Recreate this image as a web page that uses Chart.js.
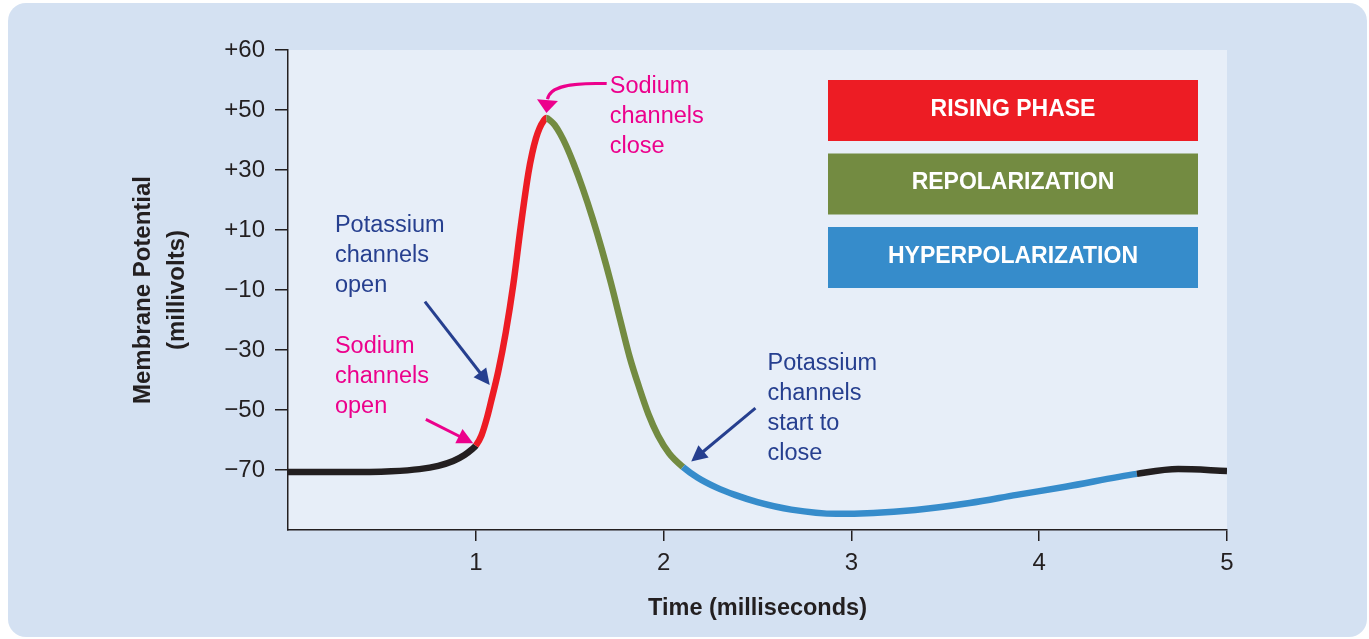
<!DOCTYPE html>
<html>
<head>
<meta charset="utf-8">
<title>Action potential</title>
<script src="https://cdn.jsdelivr.net/npm/chart.js@4.4.1/dist/chart.umd.min.js"></script>
<style>
  html, body { margin: 0; padding: 0; background: #ffffff; }
  #panel { position: absolute; left: 8px; top: 3px; width: 1359px; height: 634px; border-radius: 18px; background: #d4e1f2; }
  #chart { position: absolute; left: 0; top: 0; }
</style>
</head>
<body>
<div id="panel"></div>
<canvas id="chart" width="1369" height="639"></canvas>
<script>
// membrane potential trace
const timeMs = [0, 0.3, 0.55, 0.7, 0.8, 0.88, 0.94, 0.98, 1.0,
  1.03, 1.06, 1.08, 1.12, 1.16, 1.2, 1.24, 1.28, 1.3, 1.32, 1.34, 1.36, 1.376,
  1.4, 1.42, 1.45, 1.48, 1.52, 1.57, 1.62, 1.67, 1.72, 1.77, 1.82, 1.87, 1.92, 1.97, 2.03, 2.103,
  2.18, 2.28, 2.38, 2.5, 2.68, 2.92, 3.34, 3.63, 3.88, 4.14, 4.52, 4.74, 5.0];
const potentialMv = [-70.7, -70.7, -70.4, -69.7, -68.6, -67, -65, -63.1, -61.9,
  -58.5, -52.5, -47.5, -37, -24, -8, 11.5, 29, 35.5, 40.5, 44, 46.3, 47.3,
  46.3, 45, 42, 38.25, 32.25, 23.75, 14.25, 3.75, -7.75, -20.25, -32.5, -42.5, -51.5, -58.5, -64.5, -69,
  -72.5, -75.8, -78.3, -80.7, -83.2, -84.6, -83.3, -81, -78.3, -75.6, -71.3, -69.7, -70.3];

// where each phase begins: rising, repolarization, hyperpolarization, back to resting
const phaseStarts = [1.0, 1.376, 2.103, 4.52];
const phaseNames = ['RISING PHASE', 'REPOLARIZATION', 'HYPERPOLARIZATION'];
const phaseColors = ['#ed1c24', '#738b41', '#368ccb'];

const xTickValues = [1, 2, 3, 4, 5];
const yTickValues = [-70, -50, -30, -10, 10, 30, 50, 70];
const yTickLabels = ['\u221270', '\u221250', '\u221230', '\u221210', '+10', '+30', '+50', '+60'];

const FONT = '"Liberation Sans", Arial, Helvetica, sans-serif';
const INK = '#231f20';
const REST = '#231f20';
const MAGENTA = '#ec008c';
const NAVY = '#263f8f';

// callouts, anchored in (ms, mV)
const notes = [
  { lines: ['Sodium', 'channels', 'close'], color: MAGENTA, at: [1.713, 55.6] },
  { lines: ['Potassium', 'channels', 'open'], color: NAVY, at: [0.25, 9.4] },
  { lines: ['Sodium', 'channels', 'open'], color: MAGENTA, at: [0.25, -31.1] },
  { lines: ['Potassium', 'channels', 'start to', 'close'], color: NAVY, at: [2.553, -36.7] }
];
const arrows = [
  { color: NAVY, from: [0.729, -13.9], to: [1.074, -41.7] },
  { color: MAGENTA, from: [0.734, -53.1], to: [0.986, -61.1] },
  { color: NAVY, from: [2.489, -49.4], to: [2.147, -67.2] },
  { color: MAGENTA, from: [1.697, 58.8], via: [[1.5, 59.2], [1.392, 57.8]], bend: [1.382, 53.6], to: [1.376, 49.0], head: [13, 10.5] }
];

function segmentColor(ctx) {
  const t = ctx.p0.parsed.x;
  if (t >= phaseStarts[3]) return REST;
  if (t >= phaseStarts[2]) return phaseColors[2];
  if (t >= phaseStarts[1]) return phaseColors[1];
  if (t >= phaseStarts[0]) return phaseColors[0];
  return REST;
}

const plotBackground = {
  id: 'plotBackground',
  beforeDraw(chart) {
    const { ctx, chartArea: a } = chart;
    ctx.save();
    ctx.fillStyle = '#e7eef8';
    ctx.fillRect(a.left, a.top, a.right - a.left, a.bottom - a.top);
    ctx.restore();
  }
};

function drawHead(ctx, tip, dx, dy, len, half) {
  const n = Math.hypot(dx, dy);
  const ux = dx / n, uy = dy / n;
  const bx = tip[0] - ux * len, by = tip[1] - uy * len;
  ctx.beginPath();
  ctx.moveTo(tip[0], tip[1]);
  ctx.lineTo(bx - uy * half, by + ux * half);
  ctx.lineTo(bx + uy * half, by - ux * half);
  ctx.closePath();
  ctx.fill();
  return [bx + ux * 1, by + uy * 1];
}

const callouts = {
  id: 'callouts',
  afterDatasetsDraw(chart) {
    const { ctx, scales: { x, y }, chartArea: a } = chart;
    const px = p => [x.getPixelForValue(p[0]), y.getPixelForValue(p[1])];
    ctx.save();

    // phase key
    ctx.font = `bold 23px ${FONT}`;
    ctx.textAlign = 'center';
    ctx.textBaseline = 'middle';
    phaseNames.forEach((name, i) => {
      const left = a.left + 540, top = a.top + 30 + i * 73.5;
      ctx.fillStyle = phaseColors[i];
      ctx.fillRect(left, top, 370, 61);
      ctx.fillStyle = '#ffffff';
      ctx.fillText(name, left + 185, top + 29.5);
    });

    // labels
    ctx.font = `23.5px ${FONT}`;
    ctx.textAlign = 'left';
    ctx.textBaseline = 'alphabetic';
    notes.forEach(n => {
      const [lx, ly] = px(n.at);
      ctx.fillStyle = n.color;
      n.lines.forEach((line, i) => ctx.fillText(line, lx, ly + i * 30));
    });

    // arrows
    ctx.lineWidth = 3;
    arrows.forEach(ar => {
      ctx.strokeStyle = ar.color;
      ctx.fillStyle = ar.color;
      const [len, half] = ar.head || [16, 8];
      const from = px(ar.from), tip = px(ar.to);
      if (ar.via) {
        const c1 = px(ar.via[0]), c2 = px(ar.via[1]), b = px(ar.bend);
        drawHead(ctx, tip, tip[0] - b[0], tip[1] - b[1], len, half);
        ctx.beginPath();
        ctx.moveTo(from[0], from[1]);
        ctx.bezierCurveTo(c1[0], c1[1], c2[0], c2[1], b[0], b[1]);
        ctx.stroke();
      } else {
        const base = drawHead(ctx, tip, tip[0] - from[0], tip[1] - from[1], len, half);
        ctx.beginPath();
        ctx.moveTo(from[0], from[1]);
        ctx.lineTo(base[0], base[1]);
        ctx.stroke();
      }
    });
    ctx.restore();
  }
};

new Chart(document.getElementById('chart'), {
  type: 'line',
  data: {
    datasets: [{
      data: timeMs.map((t, i) => ({ x: t, y: potentialMv[i] })),
      borderWidth: 6.5,
      borderColor: REST,
      pointRadius: 0,
      cubicInterpolationMode: 'monotone',
      segment: { borderColor: segmentColor }
    }]
  },
  options: {
    responsive: false,
    animation: false,
    devicePixelRatio: 1,
    layout: { padding: { left: 0, top: 50, right: 142, bottom: 0 } },
    plugins: { legend: { display: false }, tooltip: { enabled: false } },
    scales: {
      x: {
        type: 'linear',
        min: 0,
        max: 5,
        afterFit: s => { s.height = 109; },
        afterBuildTicks: s => { s.ticks = xTickValues.map(v => ({ value: v })); },
        border: { display: true, color: INK, width: 1.5 },
        grid: { drawOnChartArea: false, drawTicks: true, tickLength: 11, color: INK, lineWidth: 1.5 },
        ticks: { color: INK, padding: 8, font: { family: FONT, size: 24 }, maxRotation: 0 },
        title: {
          display: true,
          text: 'Time (milliseconds)',
          color: INK,
          font: { family: FONT, size: 23.5, weight: 'bold', lineHeight: 1.2 },
          padding: { top: 0, bottom: 16 }
        }
      },
      y: {
        type: 'linear',
        min: -90,
        max: 70,
        afterFit: s => { s.width = 288; },
        afterBuildTicks: s => { s.ticks = yTickValues.map(v => ({ value: v })); },
        border: { display: true, color: INK, width: 1.5 },
        grid: { drawOnChartArea: false, drawTicks: true, tickLength: 13, color: INK, lineWidth: 1.5 },
        ticks: {
          color: INK,
          padding: 10,
          font: { family: FONT, size: 24 },
          callback: v => yTickLabels[yTickValues.indexOf(v)]
        },
        title: {
          display: true,
          text: ['Membrane Potential', '(millivolts)'],
          color: INK,
          font: { family: FONT, size: 24, weight: 'bold', lineHeight: 1.4 },
          padding: { top: 127, bottom: 0 }
        }
      }
    }
  },
  plugins: [plotBackground, callouts]
});
</script>
</body>
</html>
